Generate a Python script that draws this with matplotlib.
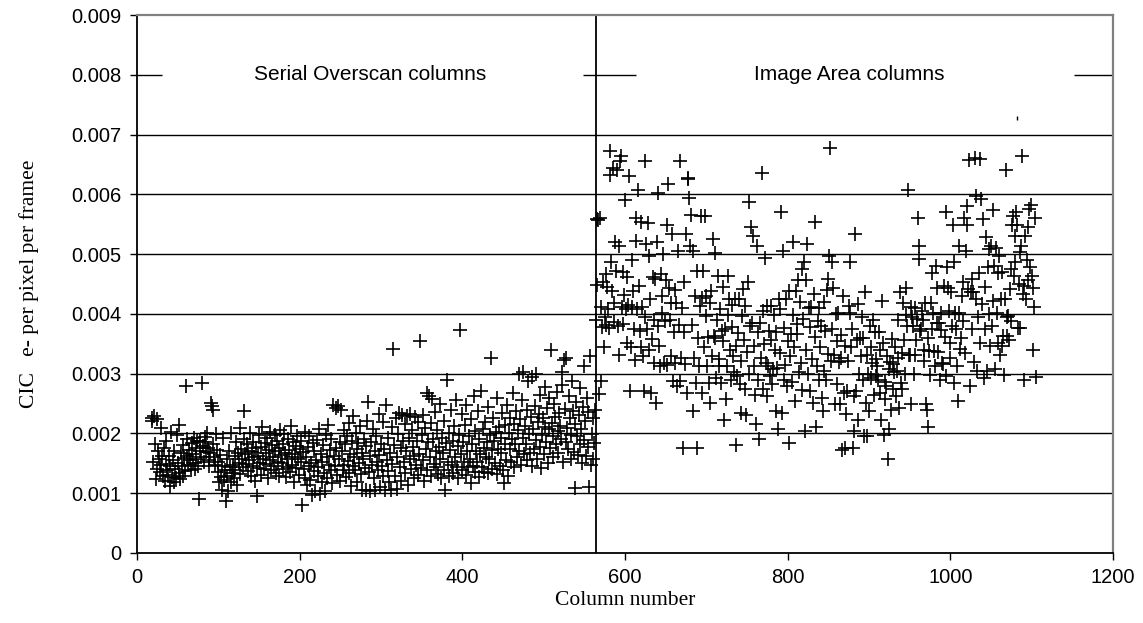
import numpy as np
import matplotlib
matplotlib.use("Agg")
import matplotlib.pyplot as plt

# CIC values in units of 1e-5 e-/pixel/frame, one per column
# serial overscan columns, starting at column 18
overscan_start = 18
overscan_cic = [
    226, 221, 152, 229, 183, 124, 224, 140, 171, 158,
    135, 209, 147, 162, 128, 176, 121, 149, 187, 138,
    131, 163, 112, 145, 202, 127, 155, 118, 171, 140,
    126, 197, 151, 133, 214, 123, 168, 146, 129, 180,
    159, 137, 280, 162, 191, 148, 172, 155, 139, 184,
    166, 150, 193, 141, 175, 158, 187, 146, 90, 171,
    188, 160, 284, 179, 152, 194, 185, 169, 201, 176,
    156, 145, 168, 251, 246, 240, 182, 161, 148, 199,
    172, 135, 152, 118, 164, 127, 105, 146, 193, 122,
    138, 87, 158, 129, 104, 171, 143, 119, 200, 133,
    148, 126, 162, 139, 185, 114, 167, 150, 209, 132,
    174, 158, 143, 190, 238, 165, 149, 182, 137, 171,
    155, 201, 128, 169, 146, 186, 160, 120, 175, 142,
    95, 163, 198, 151, 177, 131, 210, 158, 140, 184,
    167, 149, 192, 125, 172, 156, 203, 138, 181, 161,
    145, 197, 170, 134, 188, 152, 176, 129, 206, 164,
    150, 183, 141, 199, 168, 127, 157, 190, 144, 173,
    136, 212, 160, 148, 185, 119, 166, 179, 142, 195,
    158, 131, 174, 152, 187, 80, 169, 140, 203, 126,
    161, 113, 178, 145, 196, 122, 150, 97, 184, 137,
    170, 103, 155, 189, 128, 143, 208, 99, 166, 118,
    152, 181, 134, 104, 197, 160, 125, 214, 147, 172,
    139, 191, 117, 248, 163, 145, 243, 176, 130, 246,
    158, 186, 121, 240, 170, 139, 205, 148, 182, 127,
    195, 154, 133, 218, 166, 112, 187, 145, 229, 160,
    138, 201, 174, 119, 184, 150, 213, 132, 168, 105,
    157, 190, 142, 106, 179, 221, 253, 135, 162, 104,
    185, 147, 208, 126, 171, 105, 196, 153, 138, 232,
    164, 110, 183, 145, 219, 129, 174, 106, 248, 156,
    137, 192, 118, 167, 105, 210, 149, 341, 181, 128,
    226, 161, 107, 199, 235, 143, 176, 120, 231, 188,
    152, 215, 134, 170, 229, 113, 193, 158, 233, 140,
    206, 178, 125, 162, 228, 147, 187, 131, 219, 166,
    355, 142, 198, 230, 155, 121, 209, 174, 268, 139,
    185, 263, 160, 217, 128, 257, 191, 149, 236, 171,
    143, 206, 132, 178, 249, 157, 126, 193, 168, 221,
    138, 106, 184, 290, 152, 201, 129, 172, 240, 147,
    188, 134, 213, 161, 256, 144, 179, 125, 198, 373,
    165, 232, 139, 186, 152, 214, 130, 247, 171, 143,
    196, 158, 117, 224, 183, 146, 262, 135, 204, 170,
    152, 238, 127, 191, 165, 271, 143, 208, 176, 136,
    219, 161, 185, 133, 244, 157, 198, 327, 172, 140,
    226, 188, 150, 203, 132, 259, 174, 211, 145, 193,
    167, 235, 139, 117, 182, 214, 156, 248, 129, 201,
    174, 226, 152, 190, 268, 143, 215, 183, 237, 160,
    205, 299, 171, 224, 148, 256, 192, 302, 165, 213,
    182, 240, 155, 287, 199, 167, 228, 146, 295, 208,
    174, 246, 189, 300, 158, 219, 233, 177, 264, 142,
    198, 225, 165, 278, 211, 186, 243, 151, 207, 259,
    176, 340, 218, 195, 161, 249, 227, 183, 270, 204,
    168, 235, 213, 190, 281, 303, 152, 323, 241, 186,
    327, 209, 174, 262, 226, 158, 198, 288, 237, 169,
    215, 108, 253, 196, 164, 230, 276, 182, 207, 150,
    245, 313, 189, 221, 163, 260, 236, 177, 110, 330,
    148, 199, 226, 157, 184, 240,
]

# image area columns, starting at column 564
image_start = 564
image_cic = [
    390, 559, 448, 557, 266, 560, 288, 412, 378, 453,
    344, 395, 466, 382, 445, 408, 376, 672, 632, 486,
    439, 644, 418, 386, 521, 472, 641, 379, 332, 514,
    656, 664, 411, 383, 470, 431, 590, 408, 352, 461,
    415, 631, 271, 344, 412, 490, 438, 375, 323, 560,
    522, 409, 608, 447, 372, 344, 554, 412, 330, 271,
    655, 395, 517, 375, 552, 340, 497, 425, 268, 358,
    461, 318, 390, 458, 251, 520, 380, 602, 346, 313,
    467, 402, 430, 500, 318, 388, 456, 549, 315, 617,
    444, 390, 330, 419, 533, 288, 369, 440, 318, 419,
    280, 506, 382, 655, 288, 327, 410, 176, 453, 369,
    316, 533, 268, 628, 626, 594, 513, 565, 382, 237,
    506, 327, 430, 285, 176, 472, 360, 313, 413, 563,
    268, 426, 472, 344, 564, 397, 430, 313, 362, 285,
    419, 251, 439, 330, 525, 363, 360, 502, 293, 390,
    464, 313, 324, 408, 285, 372, 355, 445, 223, 374,
    257, 313, 398, 464, 425, 340, 290, 378, 415, 330,
    302, 425, 346, 181, 296, 368, 425, 283, 322, 235,
    397, 441, 357, 274, 413, 230, 336, 453, 300, 588,
    380, 545, 385, 530, 313, 346, 265, 215, 514, 290,
    369, 190, 385, 326, 636, 405, 274, 350, 493, 318,
    262, 413, 313, 372, 296, 413, 357, 282, 307, 398,
    340, 237, 369, 310, 207, 425, 408, 335, 570, 235,
    506, 290, 376, 315, 425, 280, 355, 438, 184, 330,
    366, 286, 520, 398, 345, 255, 439, 366, 383, 456,
    302, 420, 318, 475, 272, 392, 486, 204, 456, 340,
    517, 300, 410, 378, 271, 412, 325, 251, 434, 553,
    362, 210, 313, 388, 290, 410, 345, 380, 260, 237,
    420, 305, 371, 290, 440, 333, 458, 497, 677, 321,
    486, 375, 444, 332, 249, 400, 355, 282, 402, 320,
    249, 365, 327, 173, 430, 268, 176, 346, 232, 271,
    321, 413, 486, 402, 344, 374, 176, 262, 204, 533,
    271, 357, 416, 223, 300, 360, 330, 395, 290, 360,
    196, 436, 251, 332, 196, 300, 237, 380, 292, 345,
    318, 390, 265, 370, 324, 296, 312, 290, 370, 268,
    340, 223, 422, 352, 198, 286, 257, 280, 330, 158,
    307, 207, 320, 240, 358, 275, 316, 302, 344, 262,
    305, 390, 326, 243, 436, 285, 274, 335, 419, 356,
    300, 398, 444, 380, 608, 332, 332, 412, 249, 395,
    380, 300, 332, 410, 356, 392, 561, 514, 492, 372,
    374, 405, 390, 340, 321, 418, 250, 240, 211, 360,
    338, 298, 419, 469, 374, 402, 338, 312, 480, 385,
    444, 336, 385, 290, 402, 373, 318, 316, 446, 362,
    296, 570, 478, 444, 405, 352, 327, 437, 380, 548,
    486, 285, 402, 374, 313, 254, 514, 402, 342, 360,
    430, 453, 388, 560, 335, 506, 548, 581, 442, 657,
    280, 436, 375, 458, 436, 320, 660, 598, 425, 304,
    394, 468, 659, 352, 592, 416, 558, 293, 375, 445,
    528, 304, 478, 508, 400, 346, 514, 380, 573, 422,
    480, 307, 510, 402, 469, 352, 497, 332, 425, 346,
    470, 363, 297, 425, 640, 394, 363, 397, 357, 441,
    388, 475, 548, 564, 464, 530, 486, 570, 548, 377,
    450, 377, 503, 514, 664, 433, 447, 289, 530, 425,
    490, 456, 545, 575, 478, 582, 464, 340, 444, 411,
    560, 294,
]

# single stray point near the top
stray_col = [1082]
stray_cic = [727]

boundary_col = 564
y_ticks = [0, 0.001, 0.002, 0.003, 0.004, 0.005, 0.006, 0.007, 0.008, 0.009]
y_labels = ["0", "0.001", "0.002", "0.003", "0.004", "0.005", "0.006", "0.007", "0.008", "0.009"]
x_ticks = [0, 200, 400, 600, 800, 1000, 1200]

x_left = overscan_start + np.arange(len(overscan_cic))
y_left = np.array(overscan_cic) * 1e-5
x_right = image_start + np.arange(len(image_cic))
y_right = np.array(image_cic) * 1e-5

fig = plt.figure(figsize=(11.43, 6.23), dpi=100)
ax = fig.add_axes([0.1199, 0.1124, 0.8539, 0.8635])

# gridlines (the 0.008 one is broken by the two labels)
for v in y_ticks[1:8]:
    ax.axhline(v, color="black", lw=1.0, zorder=1)
ax.hlines([0.008, 0.008, 0.008], [0, 548, 1152], [31, 614, 1200], color="black", lw=1.0, zorder=1)
ax.axvline(boundary_col, color="black", lw=1.3, zorder=1)

ax.plot(x_left, y_left, "+", color="black", ms=9.5, mew=1.2, zorder=3)
ax.plot(x_right, y_right, "+", color="black", ms=9.5, mew=1.2, zorder=3)
ax.plot(stray_col, np.array(stray_cic) * 1e-5, "|", color="black", ms=3, mew=1.0, zorder=3)

ax.text(286, 0.008, "Serial Overscan columns", ha="center", va="center",
        fontsize=15, family="Liberation Sans")
ax.text(876, 0.008, "Image Area columns", ha="center", va="center",
        fontsize=15, family="Liberation Sans")

ax.set_xlim(0, 1200)
ax.set_ylim(0, 0.009)
ax.set_xticks(x_ticks)
ax.set_xticklabels([str(t) for t in x_ticks])
ax.set_yticks(y_ticks)
ax.set_yticklabels(y_labels)
ax.tick_params(direction="out", length=5, width=1.0, labelsize=14.5, colors="black")
for lab in ax.get_xticklabels() + ax.get_yticklabels():
    lab.set_family("Liberation Sans")
ax.tick_params(axis="x", pad=6)
ax.tick_params(axis="y", pad=6)

for s in ["left", "bottom"]:
    ax.spines[s].set_color("black")
    ax.spines[s].set_linewidth(1.3)
for s in ["top", "right"]:
    ax.spines[s].set_color("#808080")
    ax.spines[s].set_linewidth(1.6)

ax.set_xlabel("Column number", family="Liberation Serif", fontsize=15.5)
ax.xaxis.set_label_coords(0.5, -0.07)
ax.set_ylabel("CIC   e- per pixel per framee", family="Liberation Serif", fontsize=15.5)
ax.yaxis.set_label_coords(-0.1, 0.5)

fig.savefig("out.png", dpi=100)
